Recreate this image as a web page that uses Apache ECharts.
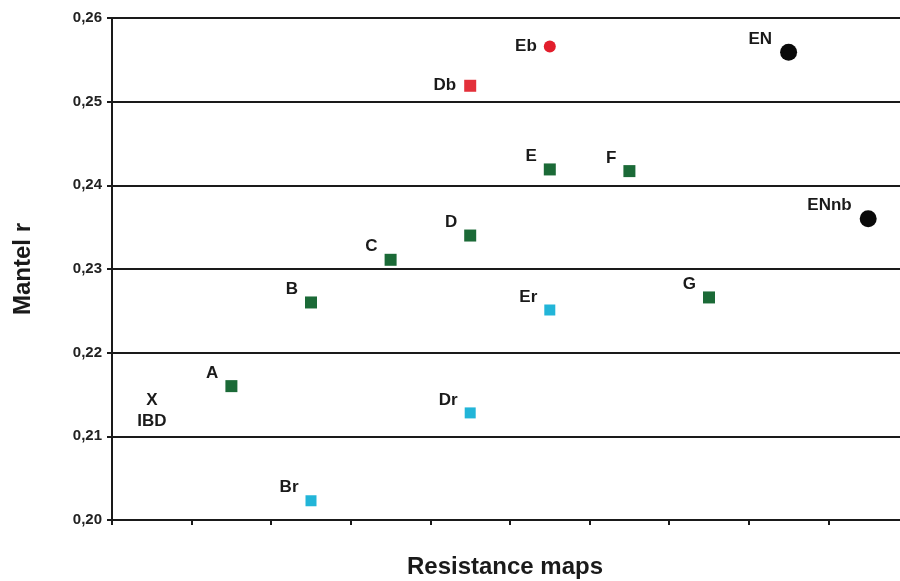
<!DOCTYPE html>
<html>
<head>
<meta charset="utf-8">
<script src="https://cdn.jsdelivr.net/npm/echarts@6/dist/echarts.min.js"></script>
<style>
  html, body { margin: 0; padding: 0; background: #fff; }
  #chart { width: 900px; height: 581px; }
</style>
</head>
<body>
<div id="chart"></div>
<script>
// Mantel r of each resistance map (x = position of the map along the axis)
const greenNames = ['A', 'B', 'C', 'D', 'E', 'F', 'G'];
const greenX = [1.5, 2.5, 3.5, 4.5, 5.5, 6.5, 7.5];
const greenR = [0.2160, 0.2260, 0.2311, 0.2340, 0.2419, 0.2417, 0.2266];

const cyanNames = ['Br', 'Dr', 'Er'];
const cyanX = [2.5, 4.5, 5.5];
const cyanR = [0.2023, 0.2128, 0.2251];

const redSquareNames = ['Db'];
const redSquareX = [4.5];
const redSquareR = [0.2519];

const redCircleNames = ['Eb'];
const redCircleX = [5.5];
const redCircleR = [0.2566];

const blackNames = ['EN', 'ENnb'];
const blackX = [8.5, 9.5];
const blackR = [0.2559, 0.2360];

const ibdName = ['IBD'];
const ibdX = [0.5];
const ibdR = [0.2142];

const yTicks = [0.20, 0.21, 0.22, 0.23, 0.24, 0.25, 0.26];

const FONT = '"Liberation Sans", Arial, sans-serif';
const INK = '#1a1a1a';

function pts(names, xs, ys) {
  return names.map((n, i) => ({ name: n, value: [xs[i], ys[i]] }));
}

function labelFor(distance, dy) {
  return {
    show: true,
    formatter: p => p.name,
    position: 'left',
    distance: distance,
    offset: [0, dy],
    color: INK,
    fontFamily: FONT,
    fontSize: 17,
    fontWeight: 'bold'
  };
}

const chart = echarts.init(document.getElementById('chart'), null, { renderer: 'canvas' });

chart.setOption({
  backgroundColor: '#ffffff',
  animation: false,
  // the plot area runs a few pixels past the right edge of the canvas
  grid: { left: 112, top: 18, bottom: 61, right: -8, outerBoundsMode: 'none', containLabel: false },
  xAxis: {
    type: 'value',
    min: 0,
    max: 10,
    interval: 1,
    name: 'Resistance maps',
    nameLocation: 'middle',
    nameGap: 35,
    nameTextStyle: { color: INK, fontFamily: FONT, fontSize: 24, fontWeight: 'bold', padding: [0, 0, 0, -10] },
    axisLine: { show: true, onZero: false, lineStyle: { color: INK, width: 2 } },
    axisTick: { show: true, inside: false, length: 5, lineStyle: { color: INK, width: 2 } },
    axisLabel: { show: false },
    splitLine: { show: false }
  },
  yAxis: {
    type: 'value',
    min: yTicks[0],
    max: yTicks[yTicks.length - 1],
    interval: 0.01,
    name: 'Mantel r',
    nameLocation: 'middle',
    nameGap: 77,
    nameTextStyle: { color: INK, fontFamily: FONT, fontSize: 24, fontWeight: 'bold' },
    axisLine: { show: true, lineStyle: { color: INK, width: 2 } },
    axisTick: { show: true, length: 5, lineStyle: { color: INK, width: 2 } },
    axisLabel: {
      color: '#222',
      fontFamily: FONT,
      fontSize: 15,
      fontWeight: 'bold',
      margin: 10,
      formatter: v => v.toFixed(2).replace('.', ',')
    },
    splitLine: { show: true, lineStyle: { color: INK, width: 2 } }
  },
  series: [
    {
      type: 'scatter',
      data: pts(greenNames, greenX, greenR),
      symbol: 'rect',
      symbolSize: 12,
      itemStyle: { color: '#1b6a37', opacity: 1 },
      label: labelFor(7, -13)
    },
    {
      type: 'scatter',
      data: pts(cyanNames, cyanX, cyanR),
      symbol: 'rect',
      symbolSize: 11,
      itemStyle: { color: '#22b5d8', opacity: 1 },
      label: labelFor(7, -13)
    },
    {
      type: 'scatter',
      data: pts(redSquareNames, redSquareX, redSquareR),
      symbol: 'rect',
      symbolSize: 12,
      itemStyle: { color: '#e3303a', opacity: 1 },
      label: labelFor(8, 0)
    },
    {
      type: 'scatter',
      data: pts(redCircleNames, redCircleX, redCircleR),
      symbol: 'circle',
      symbolSize: 12,
      itemStyle: { color: '#e21e2c', opacity: 1 },
      label: labelFor(7, 0)
    },
    {
      type: 'scatter',
      data: pts(blackNames, blackX, blackR),
      symbol: 'circle',
      symbolSize: 17,
      itemStyle: { color: '#0a0a0a', opacity: 1 },
      label: labelFor(8, -13)
    },
    {
      // isolation-by-distance reference, drawn as an "X" with its name below
      type: 'scatter',
      data: pts(ibdName, ibdX, ibdR),
      symbolSize: 0,
      itemStyle: { opacity: 1 },
      label: {
        show: true,
        position: 'inside',
        formatter: p => 'X\n' + p.name,
        lineHeight: 21,
        offset: [0, 10],
        color: INK,
        fontFamily: FONT,
        fontSize: 17,
        fontWeight: 'bold'
      }
    }
  ]
});
</script>
</body>
</html>
